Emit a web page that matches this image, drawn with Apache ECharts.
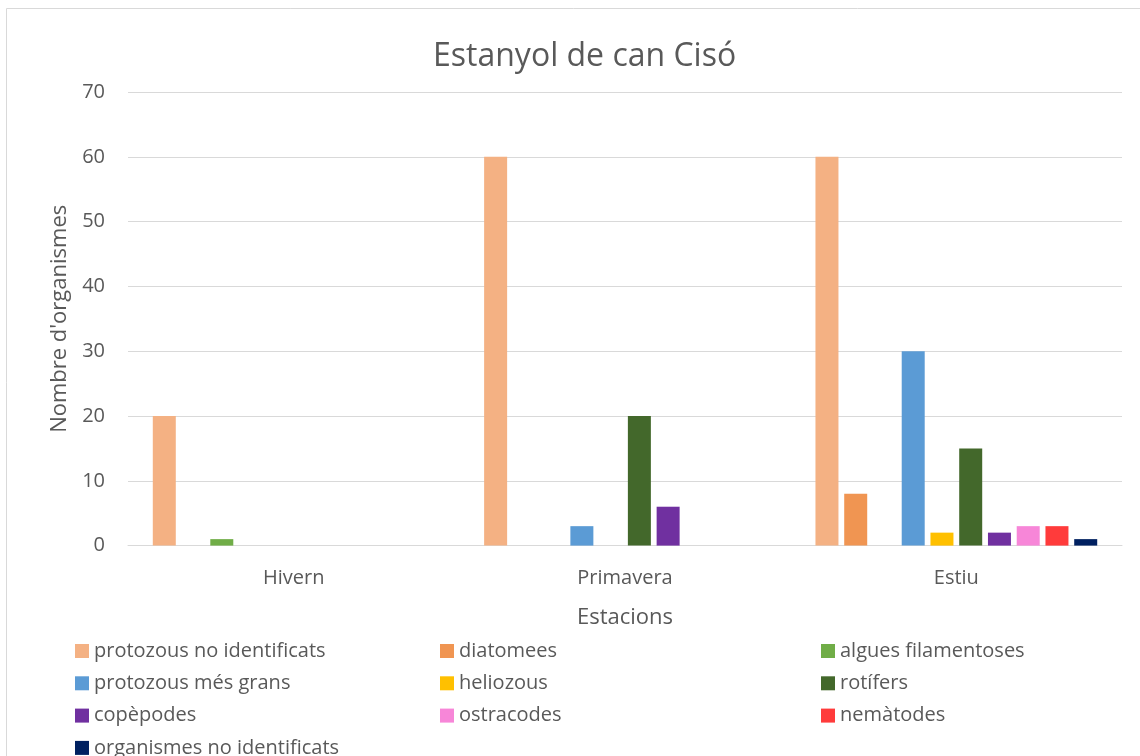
<!DOCTYPE html>
<html>
<head>
<meta charset="utf-8">
<script src="https://cdn.jsdelivr.net/npm/echarts@6/dist/echarts.min.js"></script>
<style>
html,body{margin:0;padding:0;background:#fff;}
#chart{width:1140px;height:756px;}
</style>
</head>
<body>
<div id="chart"></div>
<script>
const categories = ['Hivern', 'Primavera', 'Estiu'];
const seriesNames = ['protozous no identificats', 'diatomees', 'algues filamentoses', 'protozous més grans', 'heliozous', 'rotífers', 'copèpodes', 'ostracodes', 'nemàtodes', 'organismes no identificats'];
const protozousNoId = [20, 60, 60];
const diatomees = [0, 0, 8];
const alguesFilamentoses = [1, 0, 0];
const protozousMesGrans = [0, 3, 30];
const heliozous = [0, 0, 2];
const rotifers = [0, 20, 15];
const copepodes = [0, 6, 2];
const ostracodes = [0, 0, 3];
const nematodes = [0, 0, 3];
const organismesNoId = [0, 0, 1];
const seriesValues = [protozousNoId, diatomees, alguesFilamentoses, protozousMesGrans, heliozous, rotifers, copepodes, ostracodes, nematodes, organismesNoId];
const colors = ['#F4B183', '#F09552', '#70AD47', '#5B9BD5', '#FFC000', '#43682B', '#7030A0', '#F786D8', '#FF3B3B', '#002060'];
const yTicks = [0, 10, 20, 30, 40, 50, 60, 70];

const FONT = 'Open Sans';
const TXT = '#595959';

const legendCols = [
  {left: 70, items: [0, 3, 6, 9]},
  {left: 435, items: [1, 4, 7]},
  {left: 816, items: [2, 5, 8]}
];

const chart = echarts.init(document.getElementById('chart'));
chart.setOption({
  animation: false,
  color: colors,
  textStyle: {fontFamily: FONT},
  title: {
    text: 'Estanyol de can Cisó',
    left: 428,
    top: 36,
    textStyle: {fontFamily: FONT, fontSize: 32, fontWeight: 'normal', color: TXT}
  },
  graphic: [{
    type: 'rect',
    shape: {x: 6.5, y: 8.5, width: 1200, height: 800},
    style: {fill: 'none', stroke: '#D9D9D9', lineWidth: 1},
    silent: true
  }],
  legend: legendCols.map(c => ({
    orient: 'vertical',
    left: c.left,
    top: 636,
    height: 140,
    width: 360,
    itemWidth: 14,
    itemHeight: 14,
    itemGap: 12.3,
    icon: 'rect',
    selectedMode: false,
    textStyle: {fontFamily: FONT, fontSize: 20, color: TXT, lineHeight: 20},
    data: c.items.map(i => seriesNames[i])
  })),
  grid: {left: 128, right: 18, top: 92, bottom: 210.4, containLabel: false},
  xAxis: {
    type: 'category',
    data: categories,
    name: 'Estacions',
    nameLocation: 'middle',
    nameGap: 61,
    nameTextStyle: {fontFamily: FONT, fontSize: 22, color: TXT},
    axisLine: {lineStyle: {color: '#D9D9D9', width: 1}},
    axisTick: {show: false},
    axisLabel: {fontFamily: FONT, fontSize: 20, color: TXT, margin: 23}
  },
  yAxis: {
    type: 'value',
    min: 0,
    max: 70,
    interval: 10,
    name: "Nombre d'organismes",
    nameLocation: 'middle',
    nameGap: 55,
    nameTextStyle: {fontFamily: FONT, fontSize: 22, color: TXT},
    axisLine: {show: false},
    axisTick: {show: false},
    axisLabel: {fontFamily: FONT, fontSize: 20, color: TXT, margin: 23,
      formatter: v => yTicks.includes(v) ? String(v) : ''},
    splitLine: {lineStyle: {color: '#D9D9D9', width: 1}}
  },
  series: seriesNames.map((name, i) => ({
    name: name,
    type: 'bar',
    data: seriesValues[i],
    barWidth: 23,
    barGap: '25%',
    itemStyle: {color: colors[i]}
  }))
});
</script>
</body>
</html>
